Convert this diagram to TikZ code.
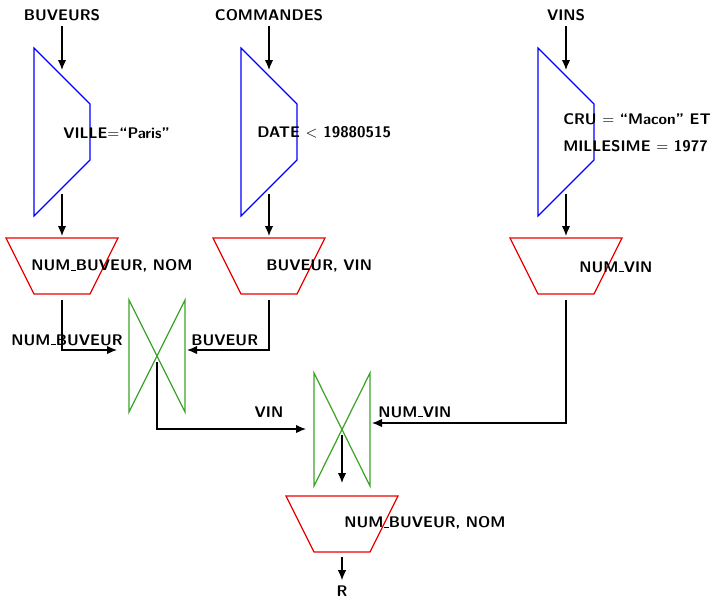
\documentclass[tikz,border=0pt]{standalone}
\usepackage{amsmath,amssymb}
\usepackage{tikz}
\usetikzlibrary{arrows.meta,positioning,calc}
\usepackage{xcolor}
\definecolor{selblue}{RGB}{0,0,255}
\definecolor{projred}{RGB}{235,0,0}
\definecolor{joingreen}{RGB}{60,165,40}
\newcommand{\tiret}{\leavevmode\kern.06em\vbox{\hrule width.3em height .6pt}}
\tikzset{
    every node/.style={font=\sffamily\bfseries},
    sel/.style={selblue, line width=0.8pt},
    proj/.style={projred, line width=0.8pt},
    jointure/.style={joingreen, line width=0.8pt},
    fleche/.style={-{Latex[length=6.5pt,width=5.5pt]}, line width=0.8pt},
    lbl/.style={inner sep=0pt, anchor=west}
}

\begin{document}
\begin{tikzpicture}[x=0.65pt, y=-0.65pt]
    \useasboundingbox (0,0) rectangle (717,597);

    % BUVEURS : selection puis projection
    \begin{scope}[shift={(34,0)}]
        \node (buveurs) at (28,15) {BUVEURS};
        \draw[sel] (0,48) -- (56,104) -- (56,160) -- (0,216) -- cycle;
        \draw[proj] (-28,238) -- (84,238) -- (56,294) -- (0,294) -- cycle;
        \coordinate (s1in) at (28,70);
        \coordinate (s1out) at (28,194);
        \coordinate (p1in) at (28,236);
        \coordinate (p1out) at (28,300);
        \node[lbl] (s1lbl) at (29,133) {VILLE$=$``Paris''};
        \node[lbl] (p1lbl) at (-3,266) {NUM\tiret BUVEUR, NOM};
    \end{scope}

    % COMMANDES : selection puis projection
    \begin{scope}[shift={(241,0)}]
        \node (commandes) at (28,15) {COMMANDES};
        \draw[sel] (0,48) -- (56,104) -- (56,160) -- (0,216) -- cycle;
        \draw[proj] (-28,238) -- (84,238) -- (56,294) -- (0,294) -- cycle;
        \coordinate (s2in) at (28,70);
        \coordinate (s2out) at (28,194);
        \coordinate (p2in) at (28,236);
        \coordinate (p2out) at (28,300);
        \node[lbl] (s2lbl) at (16,132) {DATE $<$ 19880515};
        \node[lbl] (p2lbl) at (25,266) {BUVEUR, VIN};
    \end{scope}

    % VINS : selection puis projection
    \begin{scope}[shift={(538,0)}]
        \node (vins) at (28,15) {VINS};
        \draw[sel] (0,48) -- (56,104) -- (56,160) -- (0,216) -- cycle;
        \draw[proj] (-28,238) -- (84,238) -- (56,294) -- (0,294) -- cycle;
        \coordinate (s3in) at (28,70);
        \coordinate (s3out) at (28,194);
        \coordinate (p3in) at (28,236);
        \coordinate (p3out) at (28,300);
        \node[lbl] (s3lbla) at (25,119) {CRU $=$ ``Macon'' ET};
        \node[lbl] (s3lblb) at (25,146) {MILLESIME $=$ 1977};
        \node[lbl] (p3lbl) at (41,267) {NUM\tiret VIN};
    \end{scope}

    % jointures
    \draw[jointure] (129,300) -- (185,412) -- (185,300) -- (129,412) -- cycle;
    \coordinate (j1) at (157,362);
    \coordinate (j1g) at (117,350);
    \coordinate (j1d) at (187,350);
    \draw[jointure] (314,373) -- (370,486) -- (370,373) -- (314,486) -- cycle;
    \coordinate (j2) at (342,435);
    \coordinate (j2g) at (306,429);
    \coordinate (j2d) at (372,423);
    \coordinate (j2out) at (342,483);

    % projection finale
    \draw[proj] (286,496) -- (398,496) -- (370,552) -- (314,552) -- cycle;
    \coordinate (p4out) at (342,557);
    \node[lbl] (p4lbl) at (344,523) {NUM\tiret BUVEUR, NOM};
    \node (res) at (342,591) {R};

    % fleches
    \draw[fleche] (buveurs) -- (s1in);
    \draw[fleche] (commandes) -- (s2in);
    \draw[fleche] (vins) -- (s3in);
    \draw[fleche] (s1out) -- (p1in);
    \draw[fleche] (s2out) -- (p2in);
    \draw[fleche] (s3out) -- (p3in);
    \draw[fleche] (p1out) |- (j1g);
    \draw[fleche] (p2out) |- (j1d);
    \draw[fleche] (j1) |- (j2g);
    \draw[fleche] (p3out) |- (j2d);
    \draw[fleche] (j2) -- (j2out);
    \draw[fleche] (p4out) -- (res);

    % attributs de jointure
    \node[lbl] (a1g) at (11,340) {NUM\tiret BUVEUR};
    \node[lbl] (a1d) at (191,340) {BUVEUR};
    \node (a2g) at (269,412) {VIN};
    \node[lbl] (a2d) at (378,412) {NUM\tiret VIN};
\end{tikzpicture}
\end{document}
